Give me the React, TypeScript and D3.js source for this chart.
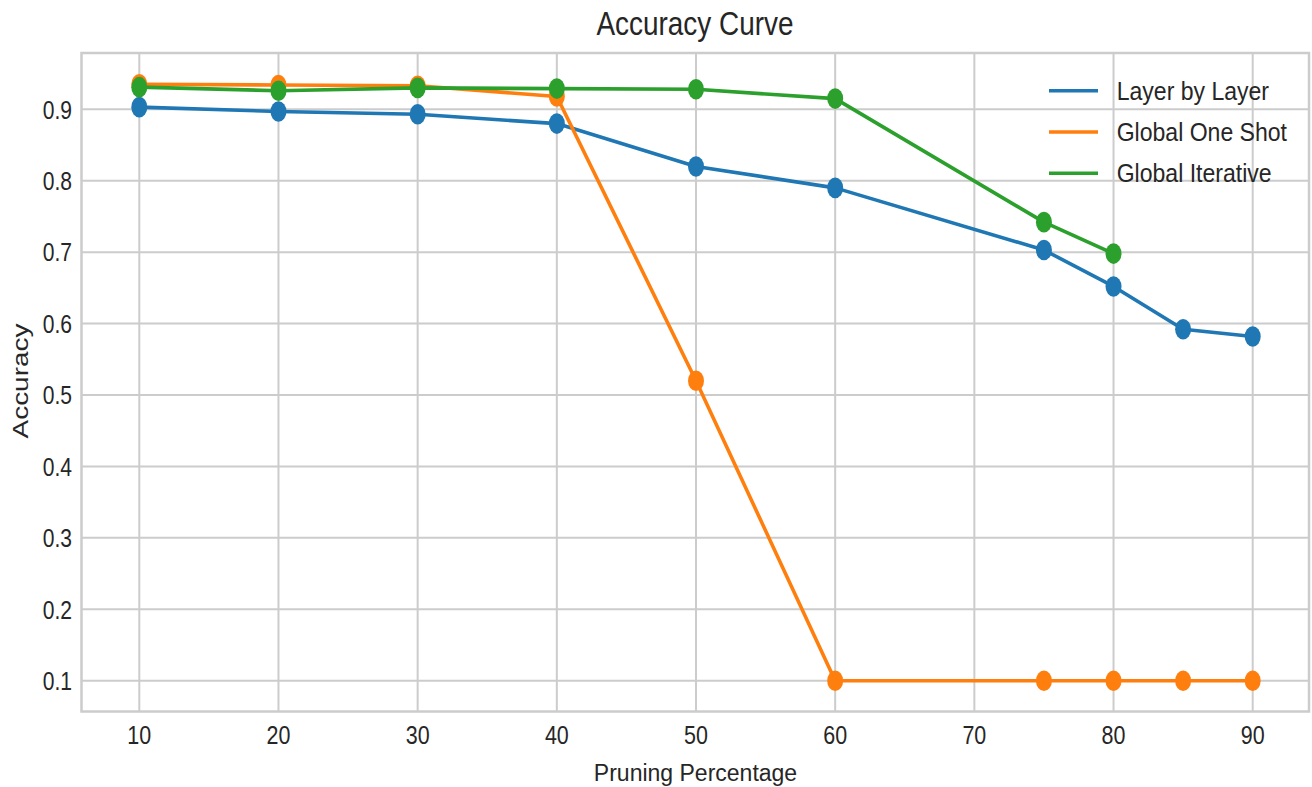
import React from "react";
import * as d3 from "d3";

const pruning = [10, 20, 30, 40, 50, 60, 75, 80, 85, 90];
const layerByLayer = [0.903, 0.897, 0.893, 0.88, 0.82, 0.79, 0.703, 0.652, 0.592, 0.582];
const globalOneShot = [0.935, 0.934, 0.933, 0.918, 0.52, 0.1, 0.1, 0.1, 0.1, 0.1];
const iterativePruning = [10, 20, 30, 40, 50, 60, 75, 80];
const globalIterative = [0.931, 0.926, 0.93, 0.929, 0.928, 0.915, 0.742, 0.698];
const xTicks = [10, 20, 30, 40, 50, 60, 70, 80, 90];
const yTicks = [0.1, 0.2, 0.3, 0.4, 0.5, 0.6, 0.7, 0.8, 0.9];

const seriesNames = ["Layer by Layer", "Global One Shot", "Global Iterative"];
const colors = ["#1f77b4", "#ff7f0e", "#2ca02c"];

const W = 1312;
const H = 787;
const plot = { left: 81.5, right: 1309, top: 53, bottom: 711.5 };
const FONT = "'Liberation Sans', Arial, sans-serif";
const TXT = "#262626";

export default function App() {
  const x = d3.scaleLinear().domain([10, 90]).range([139.3, 1252.7]);
  const y = d3.scaleLinear().domain([0.1, 0.9]).range([680.7, 109.3]);

  const series = [
    { xs: pruning, ys: layerByLayer },
    { xs: pruning, ys: globalOneShot },
    { xs: iterativePruning, ys: globalIterative },
  ];

  const line = d3
    .line<[number, number]>()
    .x((d) => x(d[0]))
    .y((d) => y(d[1]));

  return (
    <div style={{ position: "absolute", left: 0, top: 0, margin: 0 }}>
      <svg width={W} height={H} style={{ display: "block", background: "#fff" }}>
        <rect x={0} y={0} width={W} height={H} fill="#fff" />
        {/* grid */}
        {xTicks.map((t) => (
          <line key={"gx" + t} x1={x(t)} x2={x(t)} y1={plot.top} y2={plot.bottom} stroke="#cccccc" strokeWidth={2} />
        ))}
        {yTicks.map((t) => (
          <line key={"gy" + t} x1={plot.left} x2={plot.right} y1={y(t)} y2={y(t)} stroke="#cccccc" strokeWidth={2} />
        ))}
        <rect
          x={plot.left}
          y={plot.top}
          width={plot.right - plot.left}
          height={plot.bottom - plot.top}
          fill="none"
          stroke="#cccccc"
          strokeWidth={2.5}
        />
        {/* series */}
        {series.map((s, i) => {
          const pts = s.xs.map((v, j) => [v, s.ys[j]] as [number, number]);
          return (
            <g key={"s" + i}>
              <path d={line(pts) || ""} fill="none" stroke={colors[i]} strokeWidth={3.6} strokeLinejoin="round" />
              {pts.map((p, j) => (
                <ellipse key={j} cx={x(p[0])} cy={y(p[1])} rx={8} ry={10.3} fill={colors[i]} />
              ))}
            </g>
          );
        })}
        {/* y tick labels */}
        {yTicks.map((t) => (
          <text
            key={"ty" + t}
            transform={`translate(72, ${y(t) + 9.3}) scale(0.81, 1)`}
            textAnchor="end"
            fontFamily={FONT}
            fontSize={26}
            fill={TXT}
          >
            {t.toFixed(1)}
          </text>
        ))}
        {/* x tick labels */}
        {xTicks.map((t) => (
          <text
            key={"tx" + t}
            transform={`translate(${x(t)}, 744) scale(0.81, 1)`}
            textAnchor="middle"
            fontFamily={FONT}
            fontSize={26.5}
            fill={TXT}
          >
            {t}
          </text>
        ))}
        {/* title */}
        <text
          transform={`translate(695, 35) scale(0.86, 1)`}
          textAnchor="middle"
          fontFamily={FONT}
          fontSize={32.5}
          fill={TXT}
        >
          Accuracy Curve
        </text>
        {/* x label */}
        <text
          transform={`translate(695.5, 780.7) scale(1.0, 1)`}
          textAnchor="middle"
          fontFamily={FONT}
          fontSize={23}
          fill={TXT}
        >
          Pruning Percentage
        </text>
        {/* y label */}
        <text
          transform={`translate(27.5, 381) rotate(-90) scale(1.3, 1)`}
          textAnchor="middle"
          fontFamily={FONT}
          fontSize={21.5}
          fill={TXT}
        >
          Accuracy
        </text>
        {/* legend */}
        {seriesNames.map((n, i) => {
          const ly = 90.7 + i * 41.3;
          return (
            <g key={"l" + i}>
              <line x1={1049} x2={1098} y1={ly} y2={ly} stroke={colors[i]} strokeWidth={3.6} />
              <text
                transform={`translate(1116.7, ${ly + 9}) scale(0.9, 1)`}
                fontFamily={FONT}
                fontSize={25.6}
                fill={TXT}
              >
                {n}
              </text>
            </g>
          );
        })}
      </svg>
    </div>
  );
}
